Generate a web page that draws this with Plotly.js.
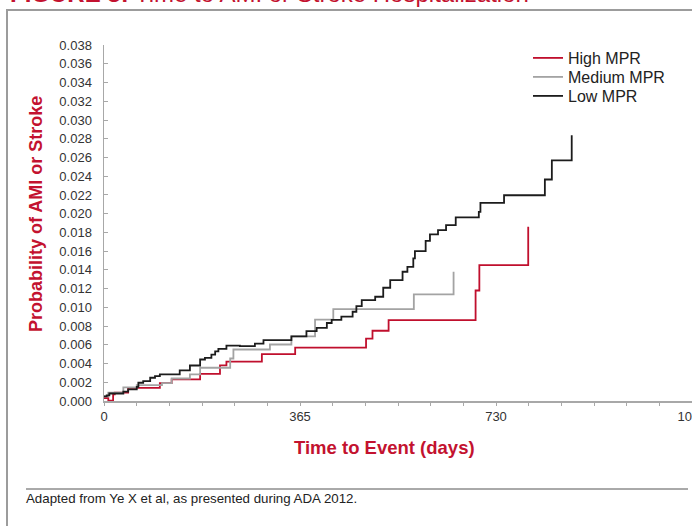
<!DOCTYPE html>
<html>
<head>
<meta charset="utf-8">
<script src="https://cdn.plot.ly/plotly-3.0.1.min.js"></script>
<style>
  html, body { margin: 0; padding: 0; background: #fff; overflow: hidden; width: 692px; height: 526px; }
  #chart { width: 720px; height: 526px; }
</style>
</head>
<body>
<div id="chart"></div>
<script>
// ---- Data ----
const seriesNames = ["High MPR", "Medium MPR", "Low MPR"];

const highDays = [0, 8, 17, 20, 45, 104, 126, 179, 216, 228, 294, 356, 488, 500, 530, 692, 699, 790];
const highProb = [0.0003, 0.00004, 0.0007, 0.0009, 0.0014, 0.0019, 0.0023, 0.0029, 0.0038, 0.0042, 0.0050, 0.0057, 0.00665, 0.0075, 0.00864, 0.0118, 0.0145, 0.0186];

const midDays = [0, 8, 36, 61, 108, 126, 160, 179, 235, 241, 309, 349, 393, 427, 577, 651];
const midProb = [0.0005, 0.0009, 0.00145, 0.0017, 0.0019, 0.0024, 0.00284, 0.00355, 0.00454, 0.0055, 0.00603, 0.00691, 0.00869, 0.00982, 0.01138, 0.0138];

const lowDays = [0, 5, 10, 36, 45, 61, 64, 73, 86, 95, 104, 141, 160, 179, 188, 200, 207, 213, 228, 253, 281, 297, 349, 377, 396, 415, 424, 442, 463, 470, 480, 505, 520, 533, 556, 565, 576, 579, 599, 607, 622, 637, 655, 698, 701, 745, 821, 834, 871];
const lowProb = [0.0005, 0.0006, 0.0008, 0.0010, 0.00124, 0.0015, 0.00195, 0.00213, 0.00248, 0.00266, 0.00284, 0.00326, 0.00379, 0.00443, 0.00461, 0.00496, 0.0053, 0.00557, 0.00592, 0.00585, 0.00613, 0.00649, 0.00691, 0.00745, 0.0078, 0.00833, 0.00866, 0.0090, 0.00953, 0.01013, 0.01077, 0.01113, 0.01209, 0.0129, 0.0138, 0.01432, 0.01522, 0.0160, 0.0171, 0.01778, 0.01824, 0.01877, 0.0196, 0.0202, 0.02115, 0.02197, 0.02365, 0.0257, 0.02837];

const xTickVals = [0, 365, 730, 1095];
const xTickText = ["0", "365", "730", "1095"];

const titleText = "<b>FIGURE 3:</b> Time to AMI or Stroke Hospitalization";
const xTitle = "<b>Time to Event (days)</b>";
const yTitle = "<b>Probability of AMI or Stroke</b>";
const footnote = "Adapted from Ye X et al, as presented during ADA 2012.";

// ---- Styling ----
const RED = "#c3122f";
const FONT = "Liberation Sans, Arial, sans-serif";

// pixel -> paper helpers (plot area: x 104..692, y 45..401)
const PX0 = 104, PW = 588, PY0 = 401, PH = 356;
const px = v => (v - PX0) / PW;
const py = v => (PY0 - v) / PH;

function kmTrace(name, x, y, color, legendId) {
  return {
    type: "scatter", mode: "lines", name: name, x: x, y: y,
    line: { color: color, width: 1.8, shape: "hv" },
    legend: legendId,
    hoverinfo: "skip"
  };
}

const traces = [
  kmTrace(seriesNames[0], highDays, highProb, "#c00f2d", "legend"),
  kmTrace(seriesNames[1], midDays, midProb, "#a3a3a3", "legend2"),
  kmTrace(seriesNames[2], lowDays, lowProb, "#1c1c1c", "legend3")
];

function legendAt(yPix) {
  return {
    x: px(528), y: py(yPix), xanchor: "left", yanchor: "middle",
    bgcolor: "rgba(0,0,0,0)", borderwidth: 0,
    font: { family: FONT, size: 16, color: "#222222" },
    itemwidth: 30
  };
}

const layout = {
  width: 720, height: 526,
  margin: { l: 104, r: 28, t: 45, b: 125, pad: 0 },
  paper_bgcolor: "#ffffff", plot_bgcolor: "#ffffff",
  font: { family: FONT, size: 13, color: "#333333" },
  showlegend: true,
  legend: legendAt(58),
  legend2: legendAt(77),
  legend3: legendAt(96),
  xaxis: {
    range: [0, 1095], tickmode: "array", tickvals: xTickVals, ticktext: xTickText,
    showline: true, linecolor: "#a8a8a8", linewidth: 1.5,
    ticks: "outside", ticklen: 3, tickcolor: "#a8a8a8", tickwidth: 1,
    minor: { tickmode: "linear", tick0: 0, dtick: 365 / 6, ticks: "outside", ticklen: 3, tickcolor: "#a8a8a8", tickwidth: 1 },
    showgrid: false, zeroline: false,
    tickfont: { family: FONT, size: 13, color: "#333333" },
    fixedrange: true
  },
  yaxis: {
    range: [0, 0.03801], tickmode: "linear", tick0: 0, dtick: 0.002, tickformat: ".3f",
    showline: true, linecolor: "#a8a8a8", linewidth: 1.5,
    ticks: "inside", ticklen: 4, tickcolor: "#a8a8a8", tickwidth: 1,
    ticklabelstandoff: 8,
    showgrid: false, zeroline: false,
    tickfont: { family: FONT, size: 13, color: "#333333" },
    fixedrange: true
  },
  shapes: [
    { type: "rect", xref: "paper", yref: "paper", x0: px(7), x1: px(760), y0: py(560), y1: py(10),
      line: { color: "#9c9c9c", width: 2 }, fillcolor: "rgba(0,0,0,0)", layer: "below" },
    { type: "line", xref: "paper", yref: "paper", x0: px(26), x1: px(688), y0: py(489), y1: py(489),
      line: { color: "#555555", width: 1 } }
  ],
  annotations: [
    { text: titleText, xref: "paper", yref: "paper", x: px(8), y: py(-6), xanchor: "left", yanchor: "middle",
      showarrow: false, font: { family: FONT, size: 24, color: RED } },
    { text: yTitle, xref: "paper", yref: "paper", x: px(36), y: py(214), xanchor: "center", yanchor: "middle",
      textangle: -90, showarrow: false, font: { family: FONT, size: 18, color: RED } },
    { text: xTitle, xref: "paper", yref: "paper", x: px(384), y: py(447), xanchor: "center", yanchor: "middle",
      showarrow: false, font: { family: FONT, size: 18.5, color: RED } },
    { text: footnote, xref: "paper", yref: "paper", x: px(24), y: py(499), xanchor: "left", yanchor: "middle",
      showarrow: false, font: { family: FONT, size: 13.3, color: "#222222" } }
  ]
};

Plotly.newPlot("chart", traces, layout, { displayModeBar: false, staticPlot: true });
</script>
</body>
</html>
